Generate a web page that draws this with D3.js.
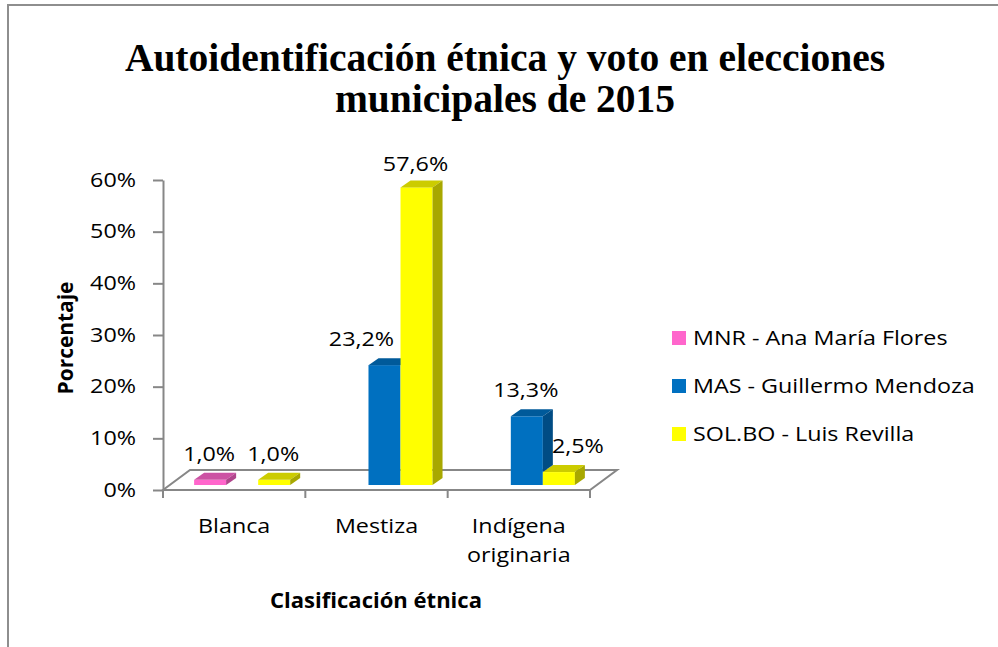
<!DOCTYPE html>
<html><head><meta charset="utf-8">
<script src="https://cdn.jsdelivr.net/npm/d3@7"></script>
<style>body{margin:0;background:#fff}svg{display:block}</style>
</head><body>
<svg id="chart" width="998" height="647"></svg>
<script>
// ---------- data ----------
const titleLines = ["Autoidentificación étnica y voto en elecciones", "municipales de 2015"];
const categories = ["Blanca", "Mestiza", "Indígena originaria"];
const seriesNames = ["MNR - Ana María Flores", "MAS - Guillermo Mendoza", "SOL.BO - Luis Revilla"];
const mnrValues = [1.0, null, null];
const masValues = [null, 23.2, 13.3];
const solValues = [1.0, 57.6, 2.5];
const yTicks = [0, 10, 20, 30, 40, 50, 60];
const yTitle = "Porcentaje";
const xTitle = "Clasificación étnica";

// ---------- style ----------
const seriesValues = [mnrValues, masValues, solValues];
const faceColors = [
  {front: "#FF66CC", top: "#CC52A3", side: "#B0468C"},
  {front: "#0070C0", top: "#005A9A", side: "#004C84"},
  {front: "#FFFF00", top: "#CCCC00", side: "#A8A800"}
];
// small per-label nudges (series-category), styling only
const labelNudge = {"1-1": [-22, 0], "2-2": [20, 0], "2-1": [0, 3]};

const W = 998, H = 647;
const FONT = "'Open Sans', sans-serif";
const svg = d3.select("#chart");
svg.append("rect").attr("width", W).attr("height", H).attr("fill", "#fff");
svg.append("rect").attr("x", 8).attr("y", 5).attr("width", 1200).attr("height", 900)
  .attr("fill", "none").attr("stroke", "#8e8e8e").attr("stroke-width", 2);

// measure to get horizontal stretch factors
function measure(str, size, weight) {
  const t = svg.append("text").style("font-family", FONT).style("font-size", size + "px")
    .style("font-weight", weight).text(str);
  const w = t.node().getComputedTextLength();
  t.remove();
  return w;
}
const FS = 19.5;
const SX = 282 / measure(seriesNames[1], FS, 400);
const FSB = 21.5;
const SXB = 212 / measure(xTitle, FSB, 700);
const SXP = 113 / measure(yTitle, FSB, 700);

function addText(parent, x, y, str, opt = {}) {
  const sx = opt.sx || SX;
  return parent.append("text")
    .attr("transform", `translate(${x},${y})${opt.rotate ? ` rotate(${opt.rotate})` : ""} scale(${sx},1)`)
    .attr("text-anchor", opt.anchor || "middle")
    .style("font-family", opt.family || FONT)
    .style("font-size", (opt.size || FS) + "px")
    .style("font-weight", opt.weight || 400)
    .attr("fill", "#000")
    .text(str);
}

// ---------- title ----------
const tg = svg.append("g");
titleLines.forEach((l, i) => {
  tg.append("text").attr("x", 505).attr("y", 71 + i * 41).attr("text-anchor", "middle")
    .style("font-family", "'Liberation Serif', 'Times New Roman', serif")
    .style("font-weight", 700).style("font-size", "39.5px").text(l);
});

// ---------- scales ----------
const y = d3.scaleLinear().domain([0, 60]).range([490, 180]);
const x = d3.scaleBand().domain(categories).range([163, 590]);
const groupW = x.bandwidth() * 0.675;
const xs = d3.scaleBand().domain(seriesNames).range([0, groupW]);
const FD = [27, -20];   // floor depth
const BO = [8, -5];     // bar front-plane offset
const BD = [10, -7];    // bar depth
const AX = "#878787";

// floor
const [fx0, fx1] = x.range();
svg.append("polygon")
  .attr("points", [[fx0, y(0)], [fx1, y(0)], [fx1 + FD[0], y(0) + FD[1]], [fx0 + FD[0], y(0) + FD[1]]].map(p => p.join(",")).join(" "))
  .attr("fill", "#fff").attr("stroke", AX).attr("stroke-width", 2);

// y axis
const yAxis = svg.append("g").attr("transform", `translate(${fx0},0)`)
  .call(d3.axisLeft(y).tickValues(yTicks).tickSize(10).tickSizeOuter(0).tickFormat(d => d + "%"));
yAxis.select(".domain").attr("stroke", AX).attr("stroke-width", 2);
yAxis.selectAll(".tick line").attr("stroke", AX).attr("stroke-width", 2);
yAxis.selectAll(".tick text")
  .attr("x", -27 / SX).attr("transform", `scale(${SX},1)`)
  .style("font-family", FONT).style("font-size", FS + "px").attr("fill", "#000");

// x axis ticks at category boundaries
const boundaries = categories.map(c => x(c)).concat([fx1]);
svg.append("g").selectAll("line").data(boundaries).join("line")
  .attr("x1", d => d).attr("x2", d => d).attr("y1", y(0)).attr("y2", y(0) + 8)
  .attr("stroke", AX).attr("stroke-width", 2);

// category labels
categories.forEach(c => {
  const cx = x(c) + x.bandwidth() / 2;
  const words = c.split(" ");
  words.forEach((w, i) => addText(svg, cx, 533 + i * 29, w));
});

// ---------- bars ----------
const bars = [];
categories.forEach((c, ci) => {
  seriesNames.forEach((s, si) => {
    const v = seriesValues[si][ci];
    if (v == null) return;
    const bx = x(c) + (x.bandwidth() - groupW) / 2 + xs(s) + BO[0];
    bars.push({ci, si, v, x0: bx, x1: bx + xs.bandwidth(), yb: y(0) + BO[1], yt: y(v) + BO[1]});
  });
});
const pts = a => a.map(p => p.join(",")).join(" ");
const barG = svg.append("g");
bars.forEach(b => {
  const col = faceColors[b.si];
  barG.append("rect").attr("x", b.x0).attr("y", b.yt).attr("width", b.x1 - b.x0).attr("height", b.yb - b.yt).attr("fill", col.front);
  barG.append("polygon").attr("points", pts([[b.x0, b.yt], [b.x1, b.yt], [b.x1 + BD[0], b.yt + BD[1]], [b.x0 + BD[0], b.yt + BD[1]]])).attr("fill", col.top);
});
bars.forEach(b => {
  const col = faceColors[b.si];
  const right = seriesValues[b.si + 1] ? seriesValues[b.si + 1][b.ci] : null;
  const hb = right == null ? 0 : right;
  if (hb >= b.v) return;
  const ylo = y(hb) + BO[1];
  barG.append("polygon").attr("points", pts([[b.x1, ylo], [b.x1, b.yt], [b.x1 + BD[0], b.yt + BD[1]], [b.x1 + BD[0], ylo + BD[1]]])).attr("fill", col.side);
});

// data labels
const fmt = d3.formatLocale({decimal: ",", thousands: ".", grouping: [3], currency: ["", ""]}).format(".1f");
bars.forEach(b => {
  const n = labelNudge[b.si + "-" + b.ci] || [0, 0];
  addText(svg, (b.x0 + b.x1) / 2 - 1 + n[0], y(b.v) - 24 + n[1], fmt(b.v) + "%");
});

// ---------- axis titles ----------
addText(svg, 73, 338, yTitle, {rotate: -90, size: FSB, weight: 700, sx: SXP});
addText(svg, 376, 608, xTitle, {size: FSB, weight: 700, sx: SXB});

// ---------- legend ----------
const legY = [338, 386, 434];
seriesNames.forEach((s, i) => {
  svg.append("rect").attr("x", 672).attr("y", legY[i] - 7).attr("width", 14).attr("height", 14).attr("fill", faceColors[i].front);
  addText(svg, 693, legY[i] + 7, s, {anchor: "start"});
});
</script>
</body></html>
